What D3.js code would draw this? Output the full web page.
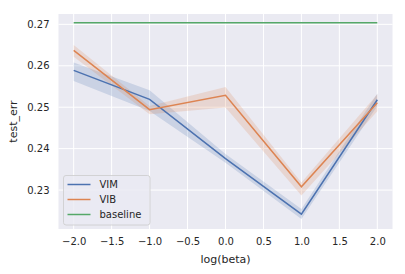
<!DOCTYPE html>
<html><head><meta charset="utf-8">
<script src="https://cdn.jsdelivr.net/npm/d3@7"></script>
<style>body{margin:0;background:#fff}svg{display:block}text{font-family:"DejaVu Sans",sans-serif;fill:#262626}</style>
</head><body><svg id="c" width="405" height="274"></svg>
<script>
const xs = [-2, -1, 0, 1, 2];
const vim = [0.2589, 0.2519, 0.2376, 0.2242, 0.2518];
const vimLo = [0.2563, 0.2491, 0.2366, 0.2230, 0.2503];
const vimHi = [0.2608, 0.2541, 0.2387, 0.2254, 0.2533];
const vib = [0.2637, 0.2494, 0.2529, 0.2308, 0.2511];
const vibLo = [0.2622, 0.2483, 0.2499, 0.2287, 0.2490];
const vibHi = [0.2650, 0.2503, 0.2549, 0.2318, 0.2531];
const baseline = [0.2704, 0.2704, 0.2704, 0.2704, 0.2704];
const xTicks = [-2.0, -1.5, -1.0, -0.5, 0.0, 0.5, 1.0, 1.5, 2.0];
const yTicks = [0.23, 0.24, 0.25, 0.26, 0.27];
const seriesNames = ["VIM", "VIB", "baseline"];
const colors = ["#4C72B0", "#DD8452", "#55A868"];

const L = 58.5, R = 392.5, T = 14, B = 229;
const svg = d3.select("#c");
const x = d3.scaleLinear().domain([-2.2, 2.2]).range([L, R]);
const y = d3.scaleLinear().domain([0.2206, 0.2725]).range([B, T]);

svg.append("rect").attr("x", L).attr("y", T).attr("width", R - L).attr("height", B - T).attr("fill", "#EAEAF2");

// grid
svg.append("g").selectAll("line").data(xTicks).join("line")
  .attr("x1", d => x(d)).attr("x2", d => x(d)).attr("y1", T).attr("y2", B)
  .attr("stroke", "#fff").attr("stroke-width", 1);
svg.append("g").selectAll("line").data(yTicks).join("line")
  .attr("y1", d => y(d)).attr("y2", d => y(d)).attr("x1", L).attr("x2", R)
  .attr("stroke", "#fff").attr("stroke-width", 1);

// axes labels
const fmtX = d => d3.format(".1f")(d).replace("-", "\u2212");
const xAxis = d3.axisBottom(x).tickValues(xTicks).tickSize(0).tickPadding(9).tickFormat(fmtX);
const gx = svg.append("g").attr("transform", `translate(0,${B})`).call(xAxis);
gx.select(".domain").remove();
gx.selectAll("text").attr("font-size", 10).attr("fill", "#262626").style("font-family", "DejaVu Sans");
const yAxis = d3.axisLeft(y).tickValues(yTicks).tickSize(0).tickPadding(9).tickFormat(d3.format(".2f"));
const gy = svg.append("g").attr("transform", `translate(${L},0)`).call(yAxis);
gy.select(".domain").remove();
gy.selectAll("text").attr("font-size", 10).attr("fill", "#262626").style("font-family", "DejaVu Sans");

svg.append("text").attr("x", (L + R) / 2).attr("y", 263).attr("text-anchor", "middle").attr("font-size", 11).text("log(beta)");
svg.append("text").attr("transform", `translate(17,${(T + B) / 2}) rotate(-90)`).attr("text-anchor", "middle").attr("font-size", 11).text("test_err");

const plot = svg.append("g");
const area = d3.area().x(d => x(d[0])).y0(d => y(d[1])).y1(d => y(d[2]));
const line = d3.line().x(d => x(d[0])).y(d => y(d[1]));

const bands = [[vimLo, vimHi], [vibLo, vibHi]];
const vals = [vim, vib, baseline];
bands.forEach((b, i) => {
  plot.append("path").datum(xs.map((v, j) => [v, b[0][j], b[1][j]]))
    .attr("d", area).attr("fill", colors[i]).attr("fill-opacity", 0.2);
});
vals.forEach((v, i) => {
  plot.append("path").datum(xs.map((xv, j) => [xv, v[j]]))
    .attr("d", line).attr("fill", "none").attr("stroke", colors[i]).attr("stroke-width", 1.5);
});

// legend
const lg = svg.append("g");
lg.append("rect").attr("x", 63.5).attr("y", 175.5).attr("width", 86.5).attr("height", 49.5).attr("rx", 2.5)
  .attr("fill", "#EAEAF2").attr("fill-opacity", 0.8).attr("stroke", "#CCCCCC").attr("stroke-width", 0.8);
seriesNames.forEach((n, i) => {
  const yy = 184.5 + i * 15;
  lg.append("line").attr("x1", 67.5).attr("x2", 90.5).attr("y1", yy).attr("y2", yy).attr("stroke", colors[i]).attr("stroke-width", 1.5);
  lg.append("text").attr("x", 99.5).attr("y", yy + 3.6).attr("font-size", 10).text(n);
});
</script></body></html>
